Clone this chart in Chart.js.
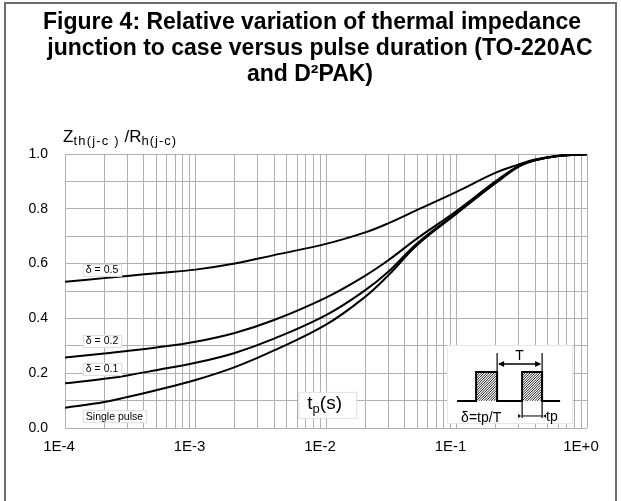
<!DOCTYPE html>
<html>
<head>
<meta charset="utf-8">
<script src="https://cdn.jsdelivr.net/npm/chart.js@4/dist/chart.umd.min.js"></script>
<style>
  html, body { margin: 0; padding: 0; background: #fff; }
  #wrap { position: relative; width: 621px; height: 501px; }
</style>
</head>
<body>
<div id="wrap"><canvas id="c" width="621" height="501"></canvas></div>
<script>
// ---- data ----
const tp = [1e-4, 2e-4, 3e-4, 5e-4, 1e-3, 2e-3, 4e-3, 1e-2, 2e-2, 3e-2, 5e-2, 1e-1, 2e-1, 3e-1, 4e-1, 6e-1, 1];
const delta05 = [0.534, 0.547, 0.555, 0.565, 0.578, 0.600, 0.631, 0.672, 0.714, 0.747, 0.796, 0.862, 0.932, 0.962, 0.980, 0.994, 0.999];
const delta02 = [0.257, 0.272, 0.281, 0.294, 0.315, 0.347, 0.394, 0.476, 0.556, 0.612, 0.692, 0.792, 0.901, 0.957, 0.978, 0.993, 0.999];
const delta01 = [0.163, 0.180, 0.192, 0.211, 0.238, 0.274, 0.326, 0.412, 0.503, 0.570, 0.674, 0.785, 0.896, 0.955, 0.977, 0.993, 0.999];
const singlePulse = [0.074, 0.095, 0.113, 0.138, 0.175, 0.222, 0.283, 0.377, 0.479, 0.557, 0.668, 0.782, 0.894, 0.954, 0.977, 0.993, 0.999];
const seriesNames = ['δ = 0.5', 'δ = 0.2', 'δ = 0.1', 'Single pulse'];
const xTickLabels = ['1E-4', '1E-3', '1E-2', '1E-1', '1E+0'];
const xDecades = [1e-4, 1e-3, 1e-2, 1e-1, 1];
const titleLines = ['Figure 4: Relative variation of thermal impedance', 'junction to case versus pulse duration (TO-220AC', 'and D²PAK)'];

const toPts = arr => tp.map((t, i) => ({ x: t, y: arr[i] }));

// label anchor positions (in data units) for the curve tags
const curveTags = [
  { text: seriesNames[0], x: 1.37e-4, y: 0.577 },
  { text: seriesNames[1], x: 1.37e-4, y: 0.318 },
  { text: seriesNames[2], x: 1.37e-4, y: 0.215 },
  { text: seriesNames[3], x: 1.37e-4, y: 0.043 }
];

const FONT = 'Liberation Sans, Arial, Helvetica, sans-serif';

const decorPlugin = {
  id: 'decor',
  beforeDraw(chart) {
    const ctx = chart.ctx;
    ctx.save();
    ctx.fillStyle = '#fff';
    ctx.fillRect(0, 0, chart.width, chart.height);
    ctx.restore();
  },
  afterDraw(chart) {
    const ctx = chart.ctx;
    const xs = chart.scales.x, ys = chart.scales.y;
    const ca = chart.chartArea;
    ctx.save();

    // outer frame
    ctx.strokeStyle = '#6e6e6e';
    ctx.lineWidth = 2;
    ctx.strokeRect(5, 3, 611, 510);

    // title (three lines, as laid out in the reference)
    ctx.fillStyle = '#000';
    ctx.font = 'bold 23px ' + FONT;
    ctx.textBaseline = 'alphabetic';
    ctx.textAlign = 'center';
    const titleCenters = [312, 320, 310];
    titleLines.forEach((line, i) => ctx.fillText(line, titleCenters[i], 29 + i * 26));

    // y axis title: Zth(j-c) /Rh(j-c)
    ctx.textAlign = 'left';
    let px = ca.left - 2, py = ca.top - 12;
    const parts = [
      ['Z', 17, 0, 0], ['th(j-c )', 13, 3, 1.2], [' /', 17, 0, 0], ['R', 17, 0, 0], ['h(j-c)', 13, 3, 1]
    ];
    for (const p of parts) {
      ctx.font = p[1] + 'px ' + FONT;
      ctx.letterSpacing = p[3] + 'px';
      ctx.fillText(p[0], px, py + p[2]);
      px += ctx.measureText(p[0]).width;
    }
    ctx.letterSpacing = '0px';

    // curve tags
    ctx.font = '10.5px ' + FONT;
    for (const tag of curveTags) {
      const x = xs.getPixelForValue(tag.x);
      const y = ys.getPixelForValue(tag.y);
      const w = ctx.measureText(tag.text).width + 6;
      ctx.fillStyle = '#fff';
      ctx.fillRect(x, y - 6, w, 12);
      ctx.strokeStyle = '#dcdcdc';
      ctx.lineWidth = 1;
      ctx.strokeRect(x + 0.5, y - 5.5, w, 12);
      ctx.fillStyle = '#000';
      ctx.textBaseline = 'middle';
      ctx.fillText(tag.text, x + 3, y + 0.5);
    }

    // tp(s) label box
    {
      const bx = ca.left + (ca.right - ca.left) * 0.447, by = ca.top + (ca.bottom - ca.top) * 0.868;
      ctx.fillStyle = '#fff';
      ctx.fillRect(bx, by, 58, 26);
      ctx.strokeStyle = '#e0e0e0';
      ctx.strokeRect(bx + 0.5, by + 0.5, 58, 26);
      ctx.fillStyle = '#000';
      ctx.textBaseline = 'alphabetic';
      let tx = bx + 9, ty = by + 17;
      ctx.font = '19px ' + FONT; ctx.fillText('t', tx, ty); tx += ctx.measureText('t').width;
      ctx.font = '13px ' + FONT; ctx.fillText('p', tx, ty + 4); tx += ctx.measureText('p').width;
      ctx.font = '19px ' + FONT; ctx.fillText('(s)', tx, ty);
    }

    // pulse inset
    {
      const ox = ca.left + (ca.right - ca.left) * 0.732;
      const oy = ca.top + (ca.bottom - ca.top) * 0.697;
      ctx.fillStyle = '#fff';
      ctx.fillRect(ox, oy, 125, 78);
      ctx.strokeStyle = '#e6e6e6';
      ctx.lineWidth = 1;
      ctx.strokeRect(ox + 0.5, oy + 0.5, 125, 78);
      const base = oy + 56, top = oy + 27;
      const p1a = ox + 29, p1b = ox + 50, p2a = ox + 75, p2b = ox + 95;
      for (const [a, b] of [[p1a, p1b], [p2a, p2b]]) {
        ctx.save();
        ctx.beginPath(); ctx.rect(a, top, b - a, base - top); ctx.clip();
        ctx.fillStyle = '#fff'; ctx.fillRect(a, top, b - a, base - top);
        ctx.strokeStyle = '#222'; ctx.lineWidth = 1;
        for (let k = -40; k < 40; k += 2.5) {
          ctx.beginPath(); ctx.moveTo(a + k, base); ctx.lineTo(a + k + 30, base - 30); ctx.stroke();
        }
        ctx.restore();
      }
      ctx.strokeStyle = '#000';
      ctx.lineWidth = 2;
      ctx.beginPath();
      ctx.moveTo(ox + 10, base); ctx.lineTo(p1a, base); ctx.lineTo(p1a, top); ctx.lineTo(p1b, top); ctx.lineTo(p1b, base);
      ctx.lineTo(p2a, base); ctx.lineTo(p2a, top); ctx.lineTo(p2b, top); ctx.lineTo(p2b, base); ctx.lineTo(ox + 113, base);
      ctx.stroke();
      ctx.lineWidth = 1.2;
      ctx.beginPath();
      ctx.moveTo(p1b, oy + 8); ctx.lineTo(p1b, top);
      ctx.moveTo(p2b, oy + 8); ctx.lineTo(p2b, oy + 73);
      ctx.moveTo(p2a, base); ctx.lineTo(p2a, oy + 73);
      ctx.stroke();
      // T arrow
      const ay = oy + 19;
      ctx.lineWidth = 1.5;
      ctx.beginPath(); ctx.moveTo(p1b + 2, ay); ctx.lineTo(p2b - 2, ay); ctx.stroke();
      ctx.fillStyle = '#000';
      ctx.beginPath(); ctx.moveTo(p1b + 1, ay); ctx.lineTo(p1b + 7, ay - 3); ctx.lineTo(p1b + 7, ay + 3); ctx.fill();
      ctx.beginPath(); ctx.moveTo(p2b - 1, ay); ctx.lineTo(p2b - 7, ay - 3); ctx.lineTo(p2b - 7, ay + 3); ctx.fill();
      ctx.font = '14px ' + FONT; ctx.textAlign = 'center'; ctx.textBaseline = 'alphabetic';
      ctx.fillText('T', (p1b + p2b) / 2, ay - 4);
      // tp dimension
      const dy = oy + 71;
      ctx.lineWidth = 1;
      ctx.beginPath(); ctx.moveTo(p2a, dy); ctx.lineTo(p2b, dy); ctx.stroke();
      ctx.beginPath(); ctx.moveTo(p2a - 1, dy); ctx.lineTo(p2a - 4, dy - 2); ctx.lineTo(p2a - 4, dy + 2); ctx.fill();
      ctx.beginPath(); ctx.moveTo(p2b + 1, dy); ctx.lineTo(p2b + 4, dy - 2); ctx.lineTo(p2b + 4, dy + 2); ctx.fill();
      ctx.textAlign = 'left';
      ctx.font = '14px ' + FONT;
      ctx.fillText('tp', p2b + 4, dy + 5);
      ctx.fillText('δ=tp/T', ox + 14, dy + 6);
    }
    ctx.restore();
  }
};

new Chart(document.getElementById('c'), {
  type: 'line',
  data: {
    datasets: [delta05, delta02, delta01, singlePulse].map((arr, i) => ({
      label: seriesNames[i],
      data: toPts(arr),
      borderColor: '#000',
      borderWidth: 2,
      pointRadius: 0,
      fill: false,
      tension: 0.4
    }))
  },
  options: {
    responsive: false,
    animation: false,
    devicePixelRatio: 1,
    layout: { padding: { left: 0, right: 34, top: 154, bottom: 0 } },
    plugins: {
      legend: { display: false },
      tooltip: { enabled: false },
      title: { display: false }
    },
    scales: {
      x: {
        type: 'logarithmic',
        min: 1e-4,
        max: 1,
        afterBuildTicks(scale) {
          const ticks = [];
          for (const d of xDecades) {
            if (d === 1) { ticks.push({ value: 1 }); break; }
            for (let m = 1; m <= 9; m++) ticks.push({ value: +(m * d).toPrecision(3) });
          }
          scale.ticks = ticks;
        },
        afterFit(scale) { scale.height = 73; },
        grid: { color: '#b0b0b0', lineWidth: 1, drawTicks: false },
        border: { display: false },
        ticks: {
          autoSkip: false,
          maxRotation: 0,
          padding: 10,
          labelOffset: -6,
          color: '#000',
          font: { family: FONT, size: 15 },
          callback(v) {
            const idx = xDecades.findIndex(d => Math.abs(v - d) / d < 1e-6);
            return idx >= 0 ? xTickLabels[idx] : '';
          }
        }
      },
      y: {
        min: 0,
        max: 1,
        afterFit(scale) { scale.width = 65; },
        grid: { color: '#b0b0b0', lineWidth: 1, drawTicks: false },
        border: { display: false },
        ticks: {
          stepSize: 0.1,
          padding: 17,
          color: '#000',
          font: { family: FONT, size: 14 },
          callback(v) {
            const t = Math.round(v * 10);
            return t % 2 === 0 ? (t / 10).toFixed(1) : '';
          }
        }
      }
    }
  },
  plugins: [decorPlugin]
});
</script>
</body>
</html>
